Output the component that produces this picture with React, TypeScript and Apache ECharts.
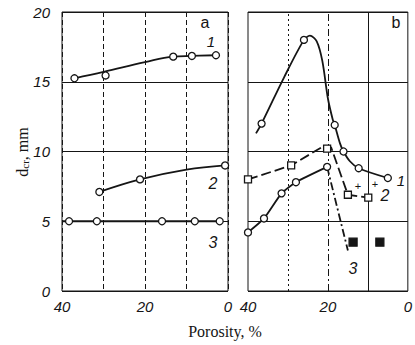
import React, { useEffect, useRef } from "react";
import * as echarts from "echarts";

// Panel a (porosity %, d_cr mm)
const a1Curve = [[37, 15.25], [30, 15.7], [20, 16.4], [13.2, 16.8], [8.7, 16.85], [2.9, 16.9]];
const a1Pts = [[37, 15.25], [29.5, 15.45], [13.2, 16.8], [8.7, 16.85], [2.9, 16.9]];
const a2Curve = [[31, 7.1], [21.2, 8.0], [10, 8.7], [0.7, 9.0]];
const a2Pts = [[31, 7.1], [21.2, 8.0], [0.7, 9.0]];
const a3Curve = [[40, 5], [2, 5]];
const a3Pts = [[38.3, 5], [31.6, 5], [15.9, 5], [8, 5], [2, 5]];

// Panel b
const b1Curve = [[38, 11.3], [36.6, 12], [31, 15.3], [26, 18], [24.5, 18.3], [22.8, 17.9], [21.4, 16.5], [20, 13.8], [18.8, 12.3], [18.3, 11.9], [17, 10.6], [16.1, 10], [14.5, 9.3], [12.3, 8.8], [5, 8.1]];
const b1Pts = [[36.6, 12], [26, 18], [18.3, 11.9], [16.1, 10], [12.3, 8.8], [5, 8.1]];
const b2Curve = [[40, 8.0], [29.2, 9.0], [21.6, 10.3], [19.2, 10.3], [15, 6.9], [9.9, 6.7]];
const b2Pts = [[40, 8.0], [29.2, 9.0], [20.2, 10.2], [15, 6.9], [9.9, 6.7]];
const b3Curve = [[40, 4.2], [36, 5.2], [31.6, 7.0], [28, 7.8], [20.2, 8.9]];
const b3Drop = [[20.2, 8.9], [15, 2.9]];
const b3Pts = [[40, 4.2], [36, 5.2], [31.6, 7.0], [28, 7.8], [20.2, 8.9]];
const bSolid = [[13.7, 3.5], [7, 3.5]];

const xLabelTicks = [40, 20, 0];
const INK = "#151515";

export default function App() {
  const ref = useRef<HTMLDivElement>(null);
  useEffect(() => {
    if (!ref.current) return;
    const chart = echarts.init(ref.current, null, { renderer: "svg" });
    const tickFont = {
      fontFamily: "Liberation Sans",
      fontStyle: "italic" as const,
      fontSize: 15,
      color: INK,
    };
    const xAxisBase = (gridIndex: number, dashed: boolean) => ({
      type: "value" as const,
      gridIndex,
      min: 0,
      max: 40,
      interval: 10,
      inverse: true,
      axisLine: { show: false },
      axisTick: { show: false },
      axisLabel: {
        ...tickFont,
        margin: 8,
        formatter: (v: number) => (xLabelTicks.includes(v) ? String(v) : ""),
      },
      splitLine: {
        show: dashed,
        lineStyle: { color: INK, type: [5, 3], width: 1 },
      },
    });
    const yAxisBase = (gridIndex: number, labels: boolean) => ({
      type: "value" as const,
      gridIndex,
      min: 0,
      max: 20,
      interval: 5,
      axisLine: { show: false },
      axisTick: { show: false },
      axisLabel: { show: labels, ...tickFont, margin: 12 },
      splitLine: { show: true, lineStyle: { color: INK, width: 1.2 } },
    });
    const curve = (data: number[][], xi: number, smooth: number | boolean, type: any = "solid") => ({
      type: "line" as const,
      xAxisIndex: xi,
      yAxisIndex: xi,
      data,
      smooth,
      showSymbol: false,
      symbol: "none",
      lineStyle: { color: INK, width: 1.8, type },
      z: 3,
    });
    const pts = (data: number[][], xi: number, symbol = "circle", fill = "#fff", size = 7) => ({
      type: "scatter" as const,
      xAxisIndex: xi,
      yAxisIndex: xi,
      data,
      symbol,
      symbolSize: size,
      itemStyle: { color: fill, borderColor: INK, borderWidth: 1.3, opacity: 1 },
      z: 5,
    });
    const t = (text: string, x: number, y: number, extra: any = {}) => ({
      type: "text",
      x,
      y,
      style: {
        text,
        fill: INK,
        fontFamily: "Liberation Sans",
        fontSize: 15,
        fontStyle: "italic",
        textAlign: "center",
        textVerticalAlign: "middle",
        ...extra,
      },
      z: 10,
    });
    chart.setOption({
      animation: false,
      backgroundColor: "#fff",
      grid: [
        { left: 62, top: 12, width: 166, height: 279, show: true, borderColor: INK, borderWidth: 1 },
        { left: 248, top: 12, width: 166, height: 279, show: true, borderColor: INK, borderWidth: 1 },
      ],
      xAxis: [xAxisBase(0, true), xAxisBase(1, false)],
      yAxis: [yAxisBase(0, true), yAxisBase(1, false)],
      series: [
        curve(a1Curve, 0, 0.4),
        pts(a1Pts, 0),
        curve(a2Curve, 0, 0.4),
        pts(a2Pts, 0),
        curve(a3Curve, 0, false),
        pts(a3Pts, 0),
        {
          ...curve(b1Curve, 1, 0.3),
          markLine: {
            silent: true,
            symbol: "none",
            label: { show: false },
            data: [
              { xAxis: 30, lineStyle: { color: INK, type: [2, 3], width: 1 } },
              { xAxis: 20, lineStyle: { color: INK, type: [7, 3, 2, 3], width: 1 } },
              { xAxis: 10, lineStyle: { color: INK, type: "solid", width: 1 } },
            ],
          },
        },
        pts(b1Pts, 1),
        curve(b2Curve, 1, false, [10, 4]),
        pts(b2Pts, 1, "rect", "#fff", 7),
        curve(b3Curve, 1, 0.2),
        curve(b3Drop, 1, false, [8, 3, 2, 3]),
        pts(b3Pts, 1),
        pts(bSolid, 1, "rect", INK, 8),
      ],
      graphic: [
        t("a", 205, 22, { fontStyle: "normal", fontSize: 16 }),
        t("b", 396, 22, { fontStyle: "normal", fontSize: 16 }),
        t("1", 211, 41),
        t("2", 213, 183, { fontSize: 16 }),
        t("3", 213, 242, { fontSize: 16 }),
        t("1", 401, 180),
        t("2", 385, 195, { fontSize: 16 }),
        t("3", 353, 268, { fontSize: 16 }),
        t("+", 358, 186, { fontSize: 11, fontStyle: "normal" }),
        t("+", 375, 184, { fontSize: 11, fontStyle: "normal" }),
        {
          type: "text",
          x: 22,
          y: 152,
          rotation: Math.PI / 2,
          style: {
            text: "d{sub|cr}, mm",
            fill: INK,
            fontFamily: "Liberation Serif",
            fontSize: 16,
            textAlign: "center",
            textVerticalAlign: "middle",
            rich: {
              sub: { fontSize: 11, fontFamily: "Liberation Serif", fill: INK, padding: [6, 0, 0, 0] },
            },
          },
          z: 10,
        },
        {
          type: "text",
          x: 225,
          y: 331,
          style: {
            text: "Porosity, %",
            fill: INK,
            fontFamily: "Liberation Serif",
            fontSize: 16,
            textAlign: "center",
            textVerticalAlign: "middle",
          },
          z: 10,
        },
      ],
    });
    return () => chart.dispose();
  }, []);
  return (
    <div
      ref={ref}
      style={{ position: "fixed", left: 0, top: 0, width: 415, height: 345, background: "#fff" }}
    />
  );
}
